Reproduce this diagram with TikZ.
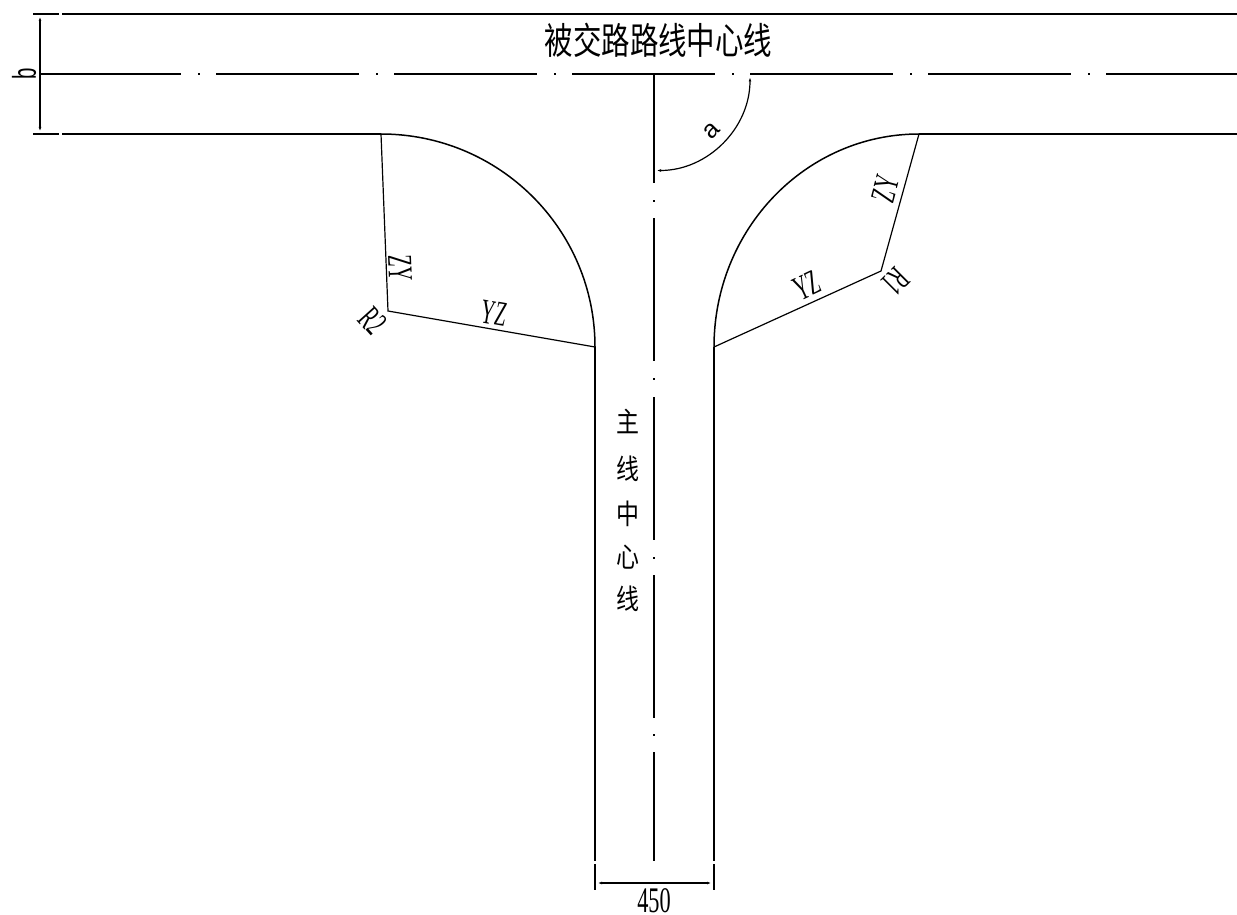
\documentclass[tikz,border=0pt]{standalone}
\usepackage{fontspec}
\setmainfont{Liberation Serif}
\newfontfamily\cjkf{Noto Sans CJK SC}
\newfontfamily\sansf{Liberation Sans}
\usetikzlibrary{arrows.meta}
\tikzset{
  road/.style={line width=1.5pt,black},
  thin line/.style={line width=1.2pt,black},
  centre/.style={line width=1.4pt,black},
  dotmark/.style={line width=1.4pt,black},
  dimen/.style={line width=1.2pt,black,{Latex[length=6pt,width=2.6pt]}-{Latex[length=6pt,width=2.6pt]}},
  cadlabel/.style={inner sep=0pt,font=\fontsize{35}{35}\selectfont,xscale=0.55},
  cadnum/.style={inner sep=0pt,font=\fontsize{36}{36}\selectfont,xscale=0.62},
  cjkbig/.style={inner sep=0pt,font=\cjkf\fontsize{37}{37}\selectfont,xscale=0.77},
  cjksmall/.style={inner sep=0pt,font=\cjkf\fontsize{28}{28}\selectfont,xscale=0.82},
}
\begin{document}
\begin{tikzpicture}[x=1pt,y=-1pt]
\useasboundingbox (0,0) rectangle (1237,915);
% named points
\coordinate (TL) at (33,14); \coordinate (TLb) at (59,14); \coordinate (TLc) at (62,14); \coordinate (TR) at (1237,14);
\coordinate (BL) at (33,134); \coordinate (BLb) at (59,134); \coordinate (BLc) at (62,134);
\coordinate (A1) at (381,134); \coordinate (A2) at (595,347);
\coordinate (B1) at (919,134); \coordinate (B2) at (714,347); \coordinate (BR) at (1237,134);
\coordinate (R2c) at (388,311); \coordinate (R1c) at (881,271);
% road edges
\draw[road] (TL) -- (TLb) (TLc) -- (TR);
\draw[road] (BL) -- (BLb) (BLc) -- (A1);
\draw[road] (B1) -- (BR);
\draw[road] (A1) .. controls (499,134) and (595,229) .. (A2);
\draw[road] (B1) .. controls (806,134) and (714,229) .. (B2);
\draw[road] (A2) -- (595,861) (595,864) -- (595,890);
\draw[road] (B2) -- (714,861) (714,864) -- (714,890);
% radii
\draw[thin line] (A1) -- (R2c) -- (A2);
\draw[thin line] (B1) -- (R1c) -- (B2);
% horizontal centre line
\foreach \a/\b in {40/181,216/359,394/537,572/715,750/893,928/1071,1106/1237}
  \draw[centre] (\a,74) -- (\b,74);
\foreach \d in {199,377,555,733,911,1089}
  \draw[dotmark] (\d-1,74) -- (\d+1,74);
% vertical centre line
\foreach \a/\b in {74/183,218/361,397/540,575/718,752/861}
  \draw[centre] (654,\a) -- (654,\b);
\foreach \d in {201,379,558,735}
  \draw[dotmark] (654,\d-1) -- (654,\d+1);
% dimensions
\draw[dimen] (40,15) -- (40,133);
\draw[dimen] (596,883) -- (713,883);
\draw[line width=1.2pt,{Latex[length=6pt,width=2.6pt]}-{Latex[length=6pt,width=2.6pt]}] (655,170.5) .. controls (708,170.5) and (750,128) .. (750,75.5);
% labels
\node[cjkbig] (t1) at (658.5,40.5) {被交路路线中心线};
\node[cjksmall] (m1) at (628,421) {主};
\node[cjksmall] (m2) at (628,469) {线};
\node[cjksmall] (m3) at (628,514) {中};
\node[cjksmall] (m4) at (628,557) {心};
\node[cjksmall] (m5) at (628,599) {线};
\node[cadnum] (l450) at (654,901) {450};
\node[rotate=90,inner sep=0pt,font=\sansf\fontsize{33}{33}\selectfont,xscale=0.62] (lb) at (24,73.5) {b};
\node[rotate=45,inner sep=0pt,font=\sansf\fontsize{25}{25}\selectfont] (la) at (712,131) {a};
\node[rotate=75,cadlabel] (l1) at (885,189) {ZY};
\node[rotate=25,cadlabel] (l2) at (807,286) {YZ};
\node[rotate=-135,cadlabel] (l3) at (896,282) {R1};
\node[rotate=-88,cadlabel] (l4) at (400,268) {ZY};
\node[rotate=-10,cadlabel] (l5) at (494,313) {YZ};
\node[rotate=-48,cadlabel] (l6) at (373,321) {R2};
\end{tikzpicture}
\end{document}
